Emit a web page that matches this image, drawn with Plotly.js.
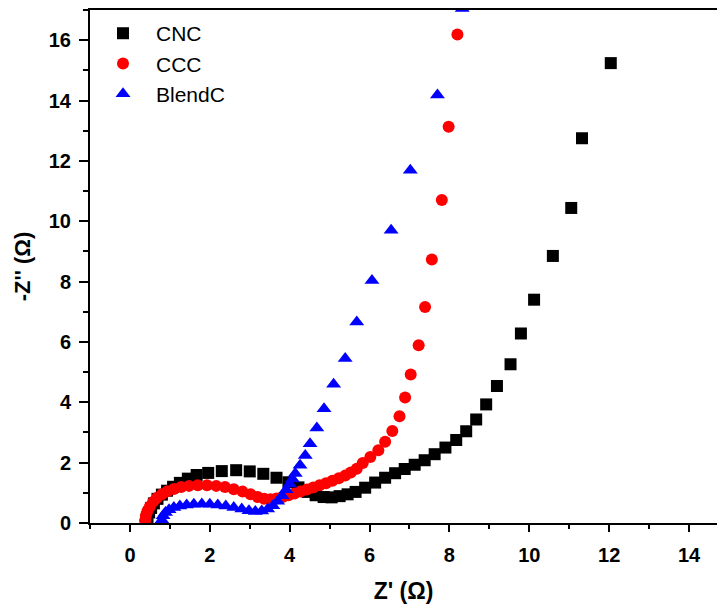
<!DOCTYPE html>
<html>
<head>
<meta charset="utf-8">
<script src="https://cdn.plot.ly/plotly-3.0.1.min.js"></script>
<style>html,body{margin:0;padding:0;background:#fff;}#chart{width:717px;height:607px;}</style>
</head>
<body>
<div id="chart"></div>
<script>
// CNC (black squares)
const cncX = [0.42,0.44,0.48,0.53,0.60,0.69,0.80,0.93,1.08,1.25,1.45,1.67,1.96,2.30,2.66,3.00,3.34,3.67,3.97,4.22,4.45,4.65,4.85,5.05,5.25,5.45,5.65,5.89,6.14,6.39,6.64,6.88,7.13,7.38,7.63,7.90,8.17,8.42,8.67,8.92,9.19,9.53,9.79,10.12,10.59,11.05,11.32,12.04];
const cncY = [0.06,0.20,0.35,0.50,0.65,0.80,0.94,1.07,1.20,1.33,1.47,1.59,1.66,1.72,1.75,1.71,1.63,1.50,1.35,1.18,1.03,0.92,0.86,0.85,0.89,0.95,1.03,1.17,1.34,1.50,1.65,1.79,1.93,2.08,2.28,2.50,2.75,3.04,3.43,3.93,4.54,5.26,6.28,7.40,8.85,10.44,12.75,15.24];
// CCC (red circles)
const cccX = [0.38,0.40,0.44,0.50,0.58,0.68,0.80,0.94,1.10,1.28,1.48,1.70,1.93,2.16,2.38,2.60,2.82,3.02,3.20,3.36,3.52,3.67,3.82,3.97,4.12,4.27,4.43,4.59,4.75,4.91,5.07,5.23,5.39,5.53,5.68,5.83,6.02,6.22,6.39,6.57,6.75,6.89,7.03,7.23,7.39,7.56,7.81,7.98,8.20];
const cccY = [0.08,0.25,0.40,0.55,0.70,0.84,0.95,1.05,1.13,1.19,1.23,1.25,1.25,1.23,1.19,1.12,1.04,0.95,0.86,0.80,0.79,0.81,0.86,0.92,0.98,1.04,1.11,1.18,1.25,1.32,1.40,1.48,1.57,1.67,1.80,1.99,2.19,2.41,2.69,3.05,3.54,4.16,4.92,5.89,7.16,8.73,10.70,13.13,16.19];
// BlendC (blue triangles)
const blendX = [0.80,0.83,0.89,0.98,1.10,1.25,1.42,1.60,1.80,2.00,2.20,2.40,2.60,2.80,2.98,3.14,3.30,3.45,3.58,3.70,3.81,3.91,4.00,4.07,4.14,4.26,4.39,4.51,4.68,4.86,5.10,5.39,5.68,6.06,6.54,7.02,7.70,8.32];
const blendY = [0.10,0.24,0.35,0.44,0.51,0.56,0.60,0.62,0.63,0.62,0.60,0.56,0.51,0.46,0.41,0.38,0.40,0.46,0.57,0.72,0.90,1.10,1.29,1.46,1.64,1.91,2.24,2.63,3.15,3.79,4.60,5.45,6.66,8.04,9.70,11.69,14.18,17.05];

const seriesNames = ['CNC','CCC','BlendC'];
const xTicks = [0,2,4,6,8,10,12,14];
const yTicks = [0,2,4,6,8,10,12,14,16];

const FONT = 'Liberation Sans, Arial, sans-serif';

const traces = [
  {x: cncX, y: cncY, name: seriesNames[0], type: 'scatter', mode: 'markers',
   marker: {symbol: 'square', size: 12, color: '#000000'}},
  {x: cccX, y: cccY, name: seriesNames[1], type: 'scatter', mode: 'markers',
   marker: {symbol: 'circle', size: 12, color: '#ff0000'}},
  {x: blendX, y: blendY, name: seriesNames[2], type: 'scatter', mode: 'markers',
   marker: {symbol: 'triangle-up', size: 13, color: '#0000ff'}}
];

const layout = {
  width: 717, height: 607,
  margin: {l: 90, r: 0, t: 10, b: 84},
  paper_bgcolor: '#ffffff', plot_bgcolor: '#ffffff',
  font: {family: FONT, color: '#000000'},
  showlegend: true,
  legend: {x: 0, y: 0.994, xanchor: 'left', yanchor: 'top', itemwidth: 56,
           font: {family: FONT, size: 21, color: '#000000'}, bgcolor: 'rgba(0,0,0,0)', tracegroupgap: 0},
  xaxis: {
    range: [-1, 14.7], tickvals: xTicks, ticktext: xTicks.map(String),
    showgrid: false, zeroline: false, showline: true, linecolor: '#000', linewidth: 2, mirror: true,
    ticks: 'outside', ticklen: 7, tickwidth: 2, tickcolor: '#000', ticklabelstandoff: 6,
    minor: {dtick: 1, tick0: 1, ticks: 'outside', ticklen: 4, tickwidth: 2, tickcolor: '#000'},
    tickfont: {family: FONT, size: 20, color: '#000', weight: 'bold'},
    title: {text: "<b>Z' (Ω)</b>", font: {family: FONT, size: 23, color: '#000'}, standoff: 18}
  },
  yaxis: {
    range: [0, 17], tickvals: yTicks, ticktext: yTicks.map(String),
    showgrid: false, zeroline: false, showline: true, linecolor: '#000', linewidth: 2, mirror: false,
    ticks: 'outside', ticklen: 9, tickwidth: 2, tickcolor: '#000', ticklabelstandoff: 4,
    minor: {dtick: 1, tick0: 1, ticks: 'outside', ticklen: 5, tickwidth: 2, tickcolor: '#000'},
    tickfont: {family: FONT, size: 20, color: '#000', weight: 'bold'},
    title: {text: "<b>-Z'' (Ω)</b>", font: {family: FONT, size: 22, color: '#000'}, standoff: 12}
  }
};

Plotly.newPlot('chart', traces, layout, {displayModeBar: false, staticPlot: true});
</script>
</body>
</html>
